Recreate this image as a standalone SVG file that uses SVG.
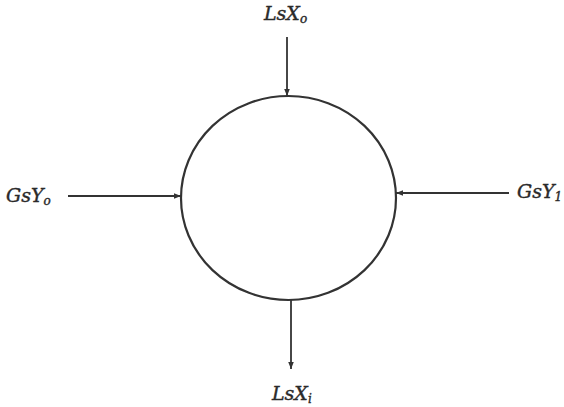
<svg xmlns="http://www.w3.org/2000/svg" width="564" height="407" viewBox="0 0 564 407">
<style>
.lbl{font-family:"DejaVu Serif","Liberation Serif",serif;font-style:italic;font-size:19px;fill:#2a2a2a;stroke:#2a2a2a;stroke-width:0.4}
.sub{font-size:12px}
.edge{stroke:#333;stroke-width:1.8;fill:none}
</style>
<defs>
<marker id="ah" viewBox="0 0 10 10" refX="10" refY="5" markerWidth="7" markerHeight="7" orient="auto" markerUnits="userSpaceOnUse">
<path d="M0,1 L10,5 L0,9 Z" fill="#333"/>
</marker>
</defs>
<rect width="564" height="407" fill="#fff"/>
<g id="vessel">
<ellipse cx="288.5" cy="198" rx="107.5" ry="102" fill="none" stroke="#333" stroke-width="2.2"/>
</g>
<g id="LsXo"><text class="lbl" x="264" y="20">LsX<tspan class="sub" dy="3">o</tspan></text></g>
<g id="LsXi"><text class="lbl" x="272" y="400">LsX<tspan class="sub" dy="3">i</tspan></text></g>
<g id="GsYo"><text class="lbl" x="6" y="202">GsY<tspan class="sub" dy="3">o</tspan></text></g>
<g id="GsY1"><text class="lbl" x="517" y="198">GsY<tspan class="sub" dy="3">1</tspan></text></g>
<g id="connectors">
<line class="edge" x1="287" y1="37" x2="287" y2="96" marker-end="url(#ah)"/>
<line class="edge" x1="291" y1="300" x2="291" y2="369" marker-end="url(#ah)"/>
<line class="edge" x1="68" y1="196" x2="181" y2="196" marker-end="url(#ah)"/>
<line class="edge" x1="509" y1="193" x2="396" y2="193" marker-end="url(#ah)"/>
</g>
</svg>
